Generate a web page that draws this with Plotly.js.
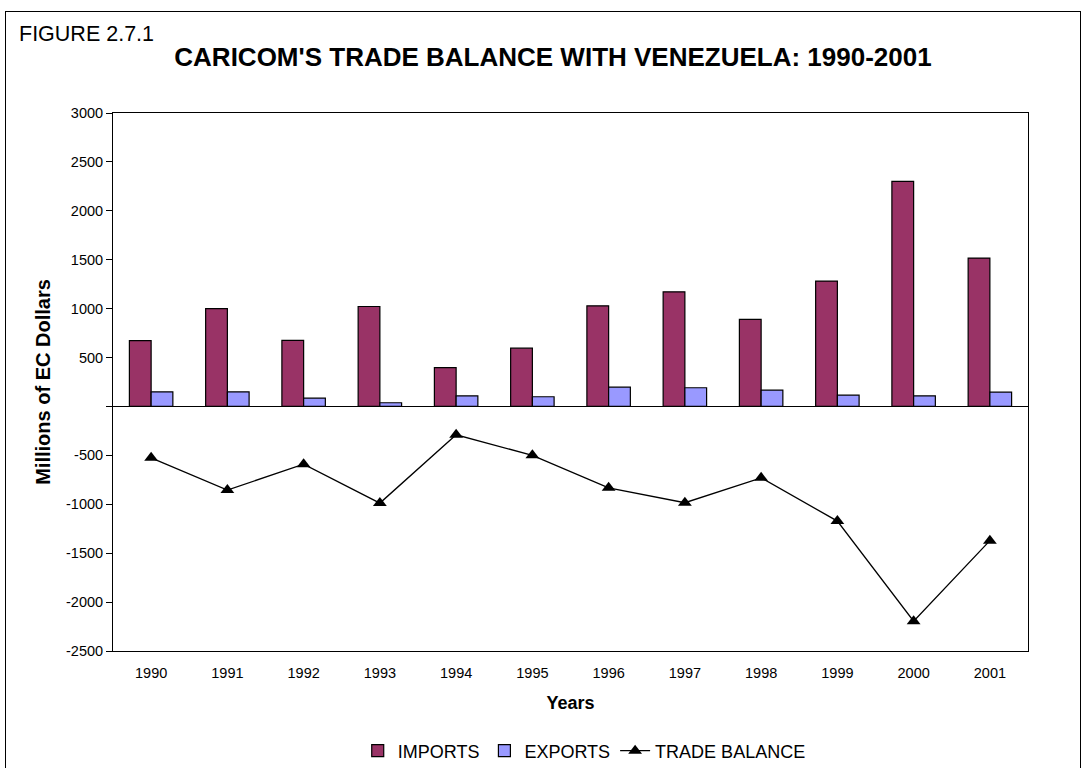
<!DOCTYPE html>
<html>
<head>
<meta charset="utf-8">
<script src="https://cdn.plot.ly/plotly-3.0.1.min.js"></script>
<style>
html,body{margin:0;padding:0;background:#fff;}
#wrap{position:relative;width:1082px;height:768px;overflow:hidden;}
#chart{position:absolute;left:0;top:0;width:1082px;height:768px;}
#frame{position:absolute;left:5px;top:11px;width:1074px;height:800px;border:1px solid #000;pointer-events:none;}
</style>
</head>
<body>
<div id="wrap"><div id="chart"></div><div id="frame"></div></div>
<script>
// Data (millions of EC dollars)
const years = ['1990','1991','1992','1993','1994','1995','1996','1997','1998','1999','2000','2001'];
const imports = [672, 1000, 675, 1022, 396, 596, 1029, 1172, 890, 1282, 2301, 1517];
const exports = [150, 150, 85, 38, 109, 99, 197, 191, 167, 116, 109, 146];
const tradeBalance = [-525, -855, -590, -988, -290, -500, -832, -984, -730, -1172, -2195, -1372];
const yTickVals = [-2500, -2000, -1500, -1000, -500, 0, 500, 1000, 1500, 2000, 2500, 3000];
const yTickText = ['-2500', '-2000', '-1500', '-1000', '-500', '', '500', '1000', '1500', '2000', '2500', '3000'];

const yRange = [-2500, 3000];
const zeroFrac = (0 - yRange[0]) / (yRange[1] - yRange[0]);
const boundaries = years.map((y, i) => i - 0.5).concat([years.length - 0.5]);
const xRange = [-0.5, years.length - 0.5];

const font = 'Liberation Sans, Arial, sans-serif';

const traces = [
  {
    type: 'bar', name: 'IMPORTS', x: years, y: imports,
    marker: {color: '#993366', line: {color: '#000000', width: 1.2}},
    hoverinfo: 'skip'
  },
  {
    type: 'bar', name: 'EXPORTS', x: years, y: exports,
    marker: {color: '#9999FF', line: {color: '#000000', width: 1.2}},
    hoverinfo: 'skip'
  },
  {
    type: 'scatter', mode: 'lines+markers', name: 'TRADE BALANCE', x: years, y: tradeBalance,
    line: {color: '#000000', width: 1.3},
    marker: {symbol: 'triangle-up', size: 12, color: '#000000'},
    hoverinfo: 'skip'
  }
];

const layout = {
  width: 1082, height: 768,
  paper_bgcolor: 'rgba(0,0,0,0)', plot_bgcolor: '#ffffff',
  margin: {l: 113, r: 54, t: 113, b: 117, autoexpand: false},
  font: {family: font, color: '#000000', size: 14.5},
  barmode: 'group', bargap: 0.43, bargroupgap: 0,
  showlegend: true,
  legend: {
    orientation: 'h', x: 0.515, xanchor: 'center',
    yref: 'container', y: 1 - 751 / 768, yanchor: 'middle',
    font: {family: font, size: 18, color: '#000'}, traceorder: 'normal',
    itemwidth: 30, bgcolor: 'rgba(0,0,0,0)'
  },
  title: {
    text: "<b>CARICOM'S TRADE BALANCE WITH VENEZUELA: 1990-2001</b>",
    font: {family: font, size: 26, color: '#000'},
    x: 553 / 1082, xanchor: 'center', xref: 'container',
    y: 1 - 57 / 768, yanchor: 'middle', yref: 'container'
  },
  xaxis: {
    type: 'category', range: xRange, automargin: false,
    showline: true, linecolor: '#000', linewidth: 1, mirror: true,
    ticks: '', showgrid: false, zeroline: false,
    tickfont: {family: font, size: 14.5, color: '#000'},
    ticklabelstandoff: 9,
    title: {text: '<b>Years</b>', font: {family: font, size: 18, color: '#000'}, standoff: 15}
  },
  xaxis2: {
    overlaying: 'x', anchor: 'free', position: zeroFrac,
    type: 'linear', range: xRange, tickmode: 'array', tickvals: boundaries,
    showticklabels: false, ticks: 'outside', ticklen: 5, tickcolor: '#000', tickwidth: 1,
    showline: false, showgrid: false, zeroline: false
  },
  xaxis3: {
    overlaying: 'x', anchor: 'free', position: zeroFrac,
    type: 'linear', range: xRange, tickmode: 'array', tickvals: boundaries,
    showticklabels: false, ticks: 'inside', ticklen: 5, tickcolor: '#000', tickwidth: 1,
    showline: false, showgrid: false, zeroline: false
  },
  yaxis: {
    range: yRange, tickmode: 'array', tickvals: yTickVals, ticktext: yTickText, automargin: false,
    showline: true, linecolor: '#000', linewidth: 1, mirror: true,
    ticks: 'outside', ticklen: 6, tickcolor: '#000', tickwidth: 1,
    showgrid: false, zeroline: true, zerolinecolor: '#000', zerolinewidth: 1,
    tickfont: {family: font, size: 14.5, color: '#000'},
    title: {text: '<b>Millions of EC Dollars</b>', font: {family: font, size: 20, color: '#000'}, standoff: 10}
  },
  yaxis2: {
    overlaying: 'y', anchor: 'x', side: 'left',
    range: yRange, tickmode: 'array', tickvals: yTickVals,
    showticklabels: false, ticks: 'inside', ticklen: 6, tickcolor: '#000', tickwidth: 1,
    showline: false, showgrid: false, zeroline: false
  },
  annotations: [{
    text: 'FIGURE 2.7.1', xref: 'paper', yref: 'paper',
    x: (17 - 113) / 914, xanchor: 'left',
    y: (651 - 34) / 538, yanchor: 'middle',
    showarrow: false, font: {family: font, size: 21.5, color: '#000'}
  }]
};

Plotly.newPlot('chart', traces, layout, {staticPlot: true, displayModeBar: false});
</script>
</body>
</html>
